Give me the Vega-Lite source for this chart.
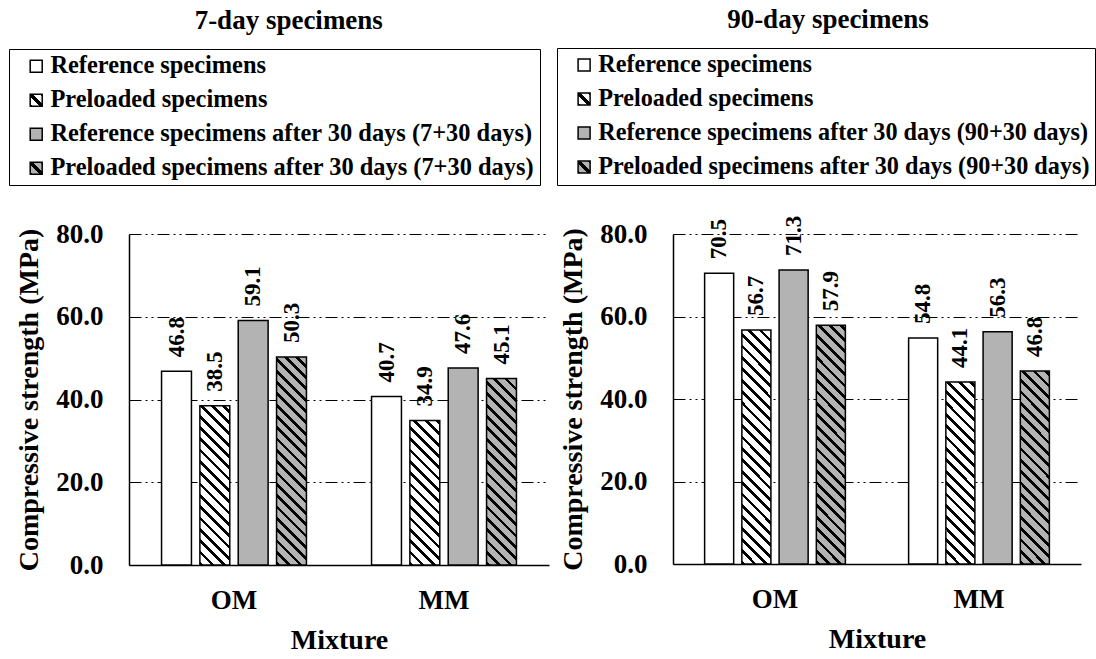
{
  "$schema": "https://vega.github.io/schema/vega-lite/v6.json",
  "padding": {"left": 8, "top": 5, "right": 0, "bottom": 0},
  "background": "white",
  "params": [
    {"name": "lw", "value": [{"offset":0,"color":"#000"},{"offset":0.12,"color":"#000"},{"offset":0.12,"color":"#fff"},{"offset":0.4,"color":"#fff"},{"offset":0.4,"color":"#000"},{"offset":0.6,"color":"#000"},{"offset":0.6,"color":"#fff"},{"offset":0.88,"color":"#fff"},{"offset":0.88,"color":"#000"},{"offset":1,"color":"#000"}]},
    {"name": "lg", "value": [{"offset":0,"color":"#000"},{"offset":0.12,"color":"#000"},{"offset":0.12,"color":"#b3b3b3"},{"offset":0.4,"color":"#b3b3b3"},{"offset":0.4,"color":"#000"},{"offset":0.6,"color":"#000"},{"offset":0.6,"color":"#b3b3b3"},{"offset":0.88,"color":"#b3b3b3"},{"offset":0.88,"color":"#000"},{"offset":1,"color":"#000"}]},
    {"name": "hw", "value": [{"offset":0,"color":"#000"},{"offset":0.014,"color":"#000"},{"offset":0.014,"color":"#fff"},{"offset":0.04167,"color":"#fff"},
{"offset":0.04167,"color":"#000"},{"offset":0.05567,"color":"#000"},{"offset":0.05567,"color":"#fff"},{"offset":0.08333,"color":"#fff"},
{"offset":0.08333,"color":"#000"},{"offset":0.09733,"color":"#000"},{"offset":0.09733,"color":"#fff"},{"offset":0.125,"color":"#fff"},
{"offset":0.125,"color":"#000"},{"offset":0.139,"color":"#000"},{"offset":0.139,"color":"#fff"},{"offset":0.16667,"color":"#fff"},
{"offset":0.16667,"color":"#000"},{"offset":0.18067,"color":"#000"},{"offset":0.18067,"color":"#fff"},{"offset":0.20833,"color":"#fff"},
{"offset":0.20833,"color":"#000"},{"offset":0.22233,"color":"#000"},{"offset":0.22233,"color":"#fff"},{"offset":0.25,"color":"#fff"},
{"offset":0.25,"color":"#000"},{"offset":0.264,"color":"#000"},{"offset":0.264,"color":"#fff"},{"offset":0.29167,"color":"#fff"},
{"offset":0.29167,"color":"#000"},{"offset":0.30567,"color":"#000"},{"offset":0.30567,"color":"#fff"},{"offset":0.33333,"color":"#fff"},
{"offset":0.33333,"color":"#000"},{"offset":0.34733,"color":"#000"},{"offset":0.34733,"color":"#fff"},{"offset":0.375,"color":"#fff"},
{"offset":0.375,"color":"#000"},{"offset":0.389,"color":"#000"},{"offset":0.389,"color":"#fff"},{"offset":0.41667,"color":"#fff"},
{"offset":0.41667,"color":"#000"},{"offset":0.43067,"color":"#000"},{"offset":0.43067,"color":"#fff"},{"offset":0.45833,"color":"#fff"},
{"offset":0.45833,"color":"#000"},{"offset":0.47233,"color":"#000"},{"offset":0.47233,"color":"#fff"},{"offset":0.5,"color":"#fff"},
{"offset":0.5,"color":"#000"},{"offset":0.514,"color":"#000"},{"offset":0.514,"color":"#fff"},{"offset":0.54167,"color":"#fff"},
{"offset":0.54167,"color":"#000"},{"offset":0.55567,"color":"#000"},{"offset":0.55567,"color":"#fff"},{"offset":0.58333,"color":"#fff"},
{"offset":0.58333,"color":"#000"},{"offset":0.59733,"color":"#000"},{"offset":0.59733,"color":"#fff"},{"offset":0.625,"color":"#fff"},
{"offset":0.625,"color":"#000"},{"offset":0.639,"color":"#000"},{"offset":0.639,"color":"#fff"},{"offset":0.66667,"color":"#fff"},
{"offset":0.66667,"color":"#000"},{"offset":0.68067,"color":"#000"},{"offset":0.68067,"color":"#fff"},{"offset":0.70833,"color":"#fff"},
{"offset":0.70833,"color":"#000"},{"offset":0.72233,"color":"#000"},{"offset":0.72233,"color":"#fff"},{"offset":0.75,"color":"#fff"},
{"offset":0.75,"color":"#000"},{"offset":0.764,"color":"#000"},{"offset":0.764,"color":"#fff"},{"offset":0.79167,"color":"#fff"},
{"offset":0.79167,"color":"#000"},{"offset":0.80567,"color":"#000"},{"offset":0.80567,"color":"#fff"},{"offset":0.83333,"color":"#fff"},
{"offset":0.83333,"color":"#000"},{"offset":0.84733,"color":"#000"},{"offset":0.84733,"color":"#fff"},{"offset":0.875,"color":"#fff"},
{"offset":0.875,"color":"#000"},{"offset":0.889,"color":"#000"},{"offset":0.889,"color":"#fff"},{"offset":0.91667,"color":"#fff"},
{"offset":0.91667,"color":"#000"},{"offset":0.93067,"color":"#000"},{"offset":0.93067,"color":"#fff"},{"offset":0.95833,"color":"#fff"},
{"offset":0.95833,"color":"#000"},{"offset":0.97233,"color":"#000"},{"offset":0.97233,"color":"#fff"},{"offset":1,"color":"#fff"}]},
    {"name": "hg", "value": [{"offset":0,"color":"#000"},{"offset":0.014,"color":"#000"},{"offset":0.014,"color":"#b3b3b3"},{"offset":0.04167,"color":"#b3b3b3"},
{"offset":0.04167,"color":"#000"},{"offset":0.05567,"color":"#000"},{"offset":0.05567,"color":"#b3b3b3"},{"offset":0.08333,"color":"#b3b3b3"},
{"offset":0.08333,"color":"#000"},{"offset":0.09733,"color":"#000"},{"offset":0.09733,"color":"#b3b3b3"},{"offset":0.125,"color":"#b3b3b3"},
{"offset":0.125,"color":"#000"},{"offset":0.139,"color":"#000"},{"offset":0.139,"color":"#b3b3b3"},{"offset":0.16667,"color":"#b3b3b3"},
{"offset":0.16667,"color":"#000"},{"offset":0.18067,"color":"#000"},{"offset":0.18067,"color":"#b3b3b3"},{"offset":0.20833,"color":"#b3b3b3"},
{"offset":0.20833,"color":"#000"},{"offset":0.22233,"color":"#000"},{"offset":0.22233,"color":"#b3b3b3"},{"offset":0.25,"color":"#b3b3b3"},
{"offset":0.25,"color":"#000"},{"offset":0.264,"color":"#000"},{"offset":0.264,"color":"#b3b3b3"},{"offset":0.29167,"color":"#b3b3b3"},
{"offset":0.29167,"color":"#000"},{"offset":0.30567,"color":"#000"},{"offset":0.30567,"color":"#b3b3b3"},{"offset":0.33333,"color":"#b3b3b3"},
{"offset":0.33333,"color":"#000"},{"offset":0.34733,"color":"#000"},{"offset":0.34733,"color":"#b3b3b3"},{"offset":0.375,"color":"#b3b3b3"},
{"offset":0.375,"color":"#000"},{"offset":0.389,"color":"#000"},{"offset":0.389,"color":"#b3b3b3"},{"offset":0.41667,"color":"#b3b3b3"},
{"offset":0.41667,"color":"#000"},{"offset":0.43067,"color":"#000"},{"offset":0.43067,"color":"#b3b3b3"},{"offset":0.45833,"color":"#b3b3b3"},
{"offset":0.45833,"color":"#000"},{"offset":0.47233,"color":"#000"},{"offset":0.47233,"color":"#b3b3b3"},{"offset":0.5,"color":"#b3b3b3"},
{"offset":0.5,"color":"#000"},{"offset":0.514,"color":"#000"},{"offset":0.514,"color":"#b3b3b3"},{"offset":0.54167,"color":"#b3b3b3"},
{"offset":0.54167,"color":"#000"},{"offset":0.55567,"color":"#000"},{"offset":0.55567,"color":"#b3b3b3"},{"offset":0.58333,"color":"#b3b3b3"},
{"offset":0.58333,"color":"#000"},{"offset":0.59733,"color":"#000"},{"offset":0.59733,"color":"#b3b3b3"},{"offset":0.625,"color":"#b3b3b3"},
{"offset":0.625,"color":"#000"},{"offset":0.639,"color":"#000"},{"offset":0.639,"color":"#b3b3b3"},{"offset":0.66667,"color":"#b3b3b3"},
{"offset":0.66667,"color":"#000"},{"offset":0.68067,"color":"#000"},{"offset":0.68067,"color":"#b3b3b3"},{"offset":0.70833,"color":"#b3b3b3"},
{"offset":0.70833,"color":"#000"},{"offset":0.72233,"color":"#000"},{"offset":0.72233,"color":"#b3b3b3"},{"offset":0.75,"color":"#b3b3b3"},
{"offset":0.75,"color":"#000"},{"offset":0.764,"color":"#000"},{"offset":0.764,"color":"#b3b3b3"},{"offset":0.79167,"color":"#b3b3b3"},
{"offset":0.79167,"color":"#000"},{"offset":0.80567,"color":"#000"},{"offset":0.80567,"color":"#b3b3b3"},{"offset":0.83333,"color":"#b3b3b3"},
{"offset":0.83333,"color":"#000"},{"offset":0.84733,"color":"#000"},{"offset":0.84733,"color":"#b3b3b3"},{"offset":0.875,"color":"#b3b3b3"},
{"offset":0.875,"color":"#000"},{"offset":0.889,"color":"#000"},{"offset":0.889,"color":"#b3b3b3"},{"offset":0.91667,"color":"#b3b3b3"},
{"offset":0.91667,"color":"#000"},{"offset":0.93067,"color":"#000"},{"offset":0.93067,"color":"#b3b3b3"},{"offset":0.95833,"color":"#b3b3b3"},
{"offset":0.95833,"color":"#000"},{"offset":0.97233,"color":"#000"},{"offset":0.97233,"color":"#b3b3b3"},{"offset":1,"color":"#b3b3b3"}]}
  ],
  "data": {"values": [
    {"p": "7", "m": "OM", "s": "R", "v": 46.8},
    {"p": "7", "m": "OM", "s": "P", "v": 38.5},
    {"p": "7", "m": "OM", "s": "R30", "v": 59.1},
    {"p": "7", "m": "OM", "s": "P30", "v": 50.3},
    {"p": "7", "m": "MM", "s": "R", "v": 40.7},
    {"p": "7", "m": "MM", "s": "P", "v": 34.9},
    {"p": "7", "m": "MM", "s": "R30", "v": 47.6},
    {"p": "7", "m": "MM", "s": "P30", "v": 45.1},
    {"p": "90", "m": "OM", "s": "R", "v": 70.5},
    {"p": "90", "m": "OM", "s": "P", "v": 56.7},
    {"p": "90", "m": "OM", "s": "R30", "v": 71.3},
    {"p": "90", "m": "OM", "s": "P30", "v": 57.9},
    {"p": "90", "m": "MM", "s": "R", "v": 54.8},
    {"p": "90", "m": "MM", "s": "P", "v": 44.1},
    {"p": "90", "m": "MM", "s": "R30", "v": 56.3},
    {"p": "90", "m": "MM", "s": "P30", "v": 46.8}
  ]},
  "spacing": 7,
  "resolve": {"scale": {"x": "independent", "y": "independent", "xOffset": "independent", "color": "independent"}, "legend": {"color": "independent"}},
  "hconcat": [
    {
      "width": 420,
      "height": 331,
      "title": {"text": "7-day specimens", "font": "Liberation Serif", "fontSize": 27, "fontWeight": "bold", "color": "#000", "anchor": "middle", "frame": "bounds", "baseline": "alphabetic", "offset": -7, "dx": 10},
      "transform": [{"filter": {"field": "p", "equal": "7"}}],
      "encoding": {
        "x": {"field": "m", "type": "nominal", "sort": ["OM", "MM"], "scale": {"paddingInner": 0.31, "paddingOuter": 0.155}, "axis": {"title": "Mixture", "labelAngle": 0}},
        "xOffset": {"field": "s", "type": "nominal", "scale": {"domain": ["R", "P", "R30", "P30"], "paddingInner": 0.22, "paddingOuter": 0}},
        "y": {"field": "v", "type": "quantitative", "stack": null, "scale": {"domain": [0, 80]}, "axis": {"title": "Compressive strength (MPa)", "values": [0, 20, 40, 60, 80], "format": ".1f"}}
      },
      "layer": [
        {"transform": [{"filter": {"field": "s", "equal": "R"}}], "mark": {"type": "bar", "fill": "#fff", "stroke": "#000", "strokeWidth": 1.5}},
        {"transform": [{"filter": {"field": "s", "equal": "R30"}}], "mark": {"type": "bar", "fill": "#b3b3b3", "stroke": "#000", "strokeWidth": 1.5}},
        {"transform": [{"filter": {"and": [{"field": "s", "equal": "P"}, {"field": "m", "equal": "OM"}]}}], "mark": {"type": "bar", "fill": {"expr": "{gradient: 'linear', x1: 0, y1: 1, x2: 0.30905, y2: -0.6465, stops: hw}"}, "stroke": "#000", "strokeWidth": 1.5}},
        {"transform": [{"filter": {"and": [{"field": "s", "equal": "P"}, {"field": "m", "equal": "MM"}]}}], "mark": {"type": "bar", "fill": {"expr": "{gradient: 'linear', x1: 0, y1: 1, x2: 0.37335, y2: -0.8031, stops: hw}"}, "stroke": "#000", "strokeWidth": 1.5}},
        {"transform": [{"filter": {"and": [{"field": "s", "equal": "P30"}, {"field": "m", "equal": "OM"}]}}], "mark": {"type": "bar", "fill": {"expr": "{gradient: 'linear', x1: 0, y1: 1, x2: 0.18368, y2: -0.2784, stops: hg}"}, "stroke": "#000", "strokeWidth": 1.5}},
        {"transform": [{"filter": {"and": [{"field": "s", "equal": "P30"}, {"field": "m", "equal": "MM"}]}}], "mark": {"type": "bar", "fill": {"expr": "{gradient: 'linear', x1: 0, y1: 1, x2: 0.22733, y2: -0.4187, stops: hg}"}, "stroke": "#000", "strokeWidth": 1.5}},
        {"mark": {"type": "text", "angle": 270, "align": "left", "baseline": "middle", "dx": 14, "font": "Liberation Serif", "fontWeight": "bold", "fontSize": 23, "color": "#000"}, "encoding": {"text": {"field": "v", "type": "quantitative", "format": ".1f"}}},
        {"transform": [{"filter": "false"}], "mark": {"type": "square", "stroke": "#000", "strokeWidth": 1.5, "opacity": 1, "filled": true},
         "encoding": {"color": {"field": "s", "type": "nominal",
           "scale": {"domain": ["R", "P", "R30", "P30"], "range": ["#fff",
             {"expr": "{gradient: 'linear', x1: 0, y1: 1, x2: 1, y2: 0, stops: lw}"},
             "#b3b3b3",
             {"expr": "{gradient: 'linear', x1: 0, y1: 1, x2: 1, y2: 0, stops: lg}"}]},
           "legend": {"orient": "none", "legendX": -120, "legendY": -185, "title": null, "direction": "vertical",
             "labelFont": "Liberation Serif", "labelFontWeight": "bold", "labelFontSize": 24.4, "labelColor": "#000", "labelLimit": 800,
             "symbolType": "square", "symbolSize": 144, "symbolStrokeColor": "#000", "symbolStrokeWidth": 1.5, "symbolOpacity": 1,
             "strokeColor": "#000", "padding": 5, "rowPadding": 9, "symbolOffset": 10, "labelOffset": 2,
             "labelExpr": "datum.label == 'R' ? 'Reference specimens' : datum.label == 'P' ? 'Preloaded specimens' : datum.label == 'R30' ? 'Reference specimens after 30 days (7+30 days)' : 'Preloaded specimens after 30 days (7+30 days)'"}}}}
      ]
    },
    {
      "width": 408,
      "height": 330,
      "title": {"text": "90-day specimens", "font": "Liberation Serif", "fontSize": 27, "fontWeight": "bold", "color": "#000", "anchor": "middle", "frame": "bounds", "baseline": "alphabetic", "offset": -7, "dx": 2},
      "transform": [{"filter": {"field": "p", "equal": "90"}}],
      "encoding": {
        "x": {"field": "m", "type": "nominal", "sort": ["OM", "MM"], "scale": {"paddingInner": 0.31, "paddingOuter": 0.155}, "axis": {"title": "Mixture", "labelAngle": 0}},
        "xOffset": {"field": "s", "type": "nominal", "scale": {"domain": ["R", "P", "R30", "P30"], "paddingInner": 0.22, "paddingOuter": 0}},
        "y": {"field": "v", "type": "quantitative", "stack": null, "scale": {"domain": [0, 80]}, "axis": {"title": "Compressive strength (MPa)", "values": [0, 20, 40, 60, 80], "format": ".1f"}}
      },
      "layer": [
        {"transform": [{"filter": {"field": "s", "equal": "R"}}], "mark": {"type": "bar", "fill": "#fff", "stroke": "#000", "strokeWidth": 1.5}},
        {"transform": [{"filter": {"field": "s", "equal": "R30"}}], "mark": {"type": "bar", "fill": "#b3b3b3", "stroke": "#000", "strokeWidth": 1.5}},
        {"transform": [{"filter": {"and": [{"field": "s", "equal": "P"}, {"field": "m", "equal": "OM"}]}}], "mark": {"type": "bar", "fill": {"expr": "{gradient: 'linear', x1: 0, y1: 1, x2: 0.14368, y2: -0.1499, stops: hw}"}, "stroke": "#000", "strokeWidth": 1.5}},
        {"transform": [{"filter": {"and": [{"field": "s", "equal": "P"}, {"field": "m", "equal": "MM"}]}}], "mark": {"type": "bar", "fill": {"expr": "{gradient: 'linear', x1: 0, y1: 1, x2: 0.23523, y2: -0.464, stops: hw}"}, "stroke": "#000", "strokeWidth": 1.5}},
        {"transform": [{"filter": {"and": [{"field": "s", "equal": "P30"}, {"field": "m", "equal": "OM"}]}}], "mark": {"type": "bar", "fill": {"expr": "{gradient: 'linear', x1: 0, y1: 1, x2: 0.13789, y2: -0.1269, stops: hg}"}, "stroke": "#000", "strokeWidth": 1.5}},
        {"transform": [{"filter": {"and": [{"field": "s", "equal": "P30"}, {"field": "m", "equal": "MM"}]}}], "mark": {"type": "bar", "fill": {"expr": "{gradient: 'linear', x1: 0, y1: 1, x2: 0.2094, y2: -0.3833, stops: hg}"}, "stroke": "#000", "strokeWidth": 1.5}},
        {"mark": {"type": "text", "angle": 270, "align": "left", "baseline": "middle", "dx": 14, "font": "Liberation Serif", "fontWeight": "bold", "fontSize": 23, "color": "#000"}, "encoding": {"text": {"field": "v", "type": "quantitative", "format": ".1f"}}},
        {"transform": [{"filter": "false"}], "mark": {"type": "square", "stroke": "#000", "strokeWidth": 1.5, "opacity": 1, "filled": true},
         "encoding": {"color": {"field": "s", "type": "nominal",
           "scale": {"domain": ["R", "P", "R30", "P30"], "range": ["#fff",
             {"expr": "{gradient: 'linear', x1: 0, y1: 1, x2: 1, y2: 0, stops: lw}"},
             "#b3b3b3",
             {"expr": "{gradient: 'linear', x1: 0, y1: 1, x2: 1, y2: 0, stops: lg}"}]},
           "legend": {"orient": "none", "legendX": -116, "legendY": -186, "title": null, "direction": "vertical",
             "labelFont": "Liberation Serif", "labelFontWeight": "bold", "labelFontSize": 24.2, "labelColor": "#000", "labelLimit": 800,
             "symbolType": "square", "symbolSize": 144, "symbolStrokeColor": "#000", "symbolStrokeWidth": 1.5, "symbolOpacity": 1,
             "strokeColor": "#000", "padding": 5, "rowPadding": 9, "symbolOffset": 10, "labelOffset": 2,
             "labelExpr": "datum.label == 'R' ? 'Reference specimens' : datum.label == 'P' ? 'Preloaded specimens' : datum.label == 'R30' ? 'Reference specimens after 30 days (90+30 days)' : 'Preloaded specimens after 30 days (90+30 days)'"}}}}
      ]
    }
  ],
  "config": {
    "view": {"stroke": null},
    "font": "Liberation Serif",
    "axis": {"labelFont": "Liberation Serif", "labelFontWeight": "bold", "labelFontSize": 27, "labelColor": "#000",
             "titleFont": "Liberation Serif", "titleFontWeight": "bold", "titleFontSize": 28, "titleColor": "#000",
             "domainColor": "#000", "domainWidth": 1.5, "ticks": false, "tickSize": 0},
    "axisX": {"grid": false, "labelPadding": 22, "titlePadding": 13},
    "axisY": {"grid": true, "gridColor": "#000", "gridWidth": 1.2, "gridDash": [12, 4, 2, 4, 2, 4], "labelPadding": 26, "titlePadding": 12}
  }
}
